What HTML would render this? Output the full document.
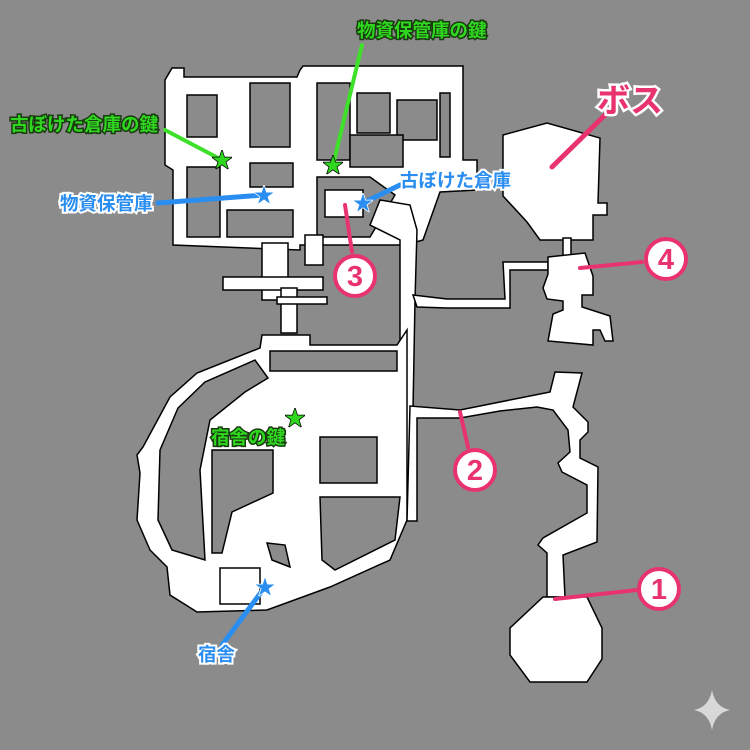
<!DOCTYPE html>
<html><head><meta charset="utf-8"><style>
html,body{margin:0;padding:0;background:#8b8b8b}
svg{display:block}
text{font-family:"Liberation Sans","Noto Sans CJK JP",sans-serif;font-weight:bold;paint-order:stroke}
.g{fill:#2fd81f;stroke:#1a3a10;stroke-width:3px;font-size:18.5px}
.b{fill:#2a8ef0;stroke:#fff;stroke-width:4px;font-size:18.5px}
.w{fill:#fff;stroke:#000;stroke-width:1.5}
.h{fill:#8b8b8b;stroke:#000;stroke-width:1.5}
</style></head><body>
<svg width="750" height="750" viewBox="0 0 750 750" xmlns="http://www.w3.org/2000/svg">
<rect width="750" height="750" fill="#8b8b8b"/>

<!-- top-left complex -->
<polygon class="w" points="172,68 184,68 184,77 297,77 300,70 303,66 463,66 463,160 477,160 477,190 440,192 423,240 405,245 300,245 300,250 173,245 173,170 165,165 165,80"/>
<rect class="h" x="187" y="95" width="30" height="42"/>
<rect class="h" x="250" y="83" width="40" height="64"/>
<rect class="h" x="187" y="167" width="33" height="70"/>
<rect class="h" x="250" y="163" width="43" height="24"/>
<rect class="h" x="227" y="210" width="66" height="27"/>
<rect class="h" x="317" y="83" width="33" height="77"/>
<rect class="h" x="357" y="93" width="33" height="40"/>
<rect class="h" x="397" y="100" width="40" height="40"/>
<rect class="h" x="350" y="135" width="53" height="32"/>
<rect class="h" x="440" y="93" width="10" height="64"/>
<polygon class="h" points="317,177 370,177 395,195 370,237 317,237"/>
<rect class="w" x="325" y="190" width="38" height="27"/>
<rect class="w" x="305" y="235" width="18" height="30" stroke="none"/>
<!-- lower connector -->
<rect class="w" x="262" y="243" width="26" height="57"/>
<rect class="w" x="223" y="277" width="100" height="13"/>
<rect class="w" x="281" y="288" width="16" height="45"/>
<rect class="w" x="277" y="297" width="50" height="7"/>

<!-- big vertical corridor -->
<polygon class="w" points="380,200 410,205 417,230 415,300 413,410 407,520 398,522 400,400 400,240 370,225"/>

<!-- middle ring -->
<polygon class="w" points="262,335 310,335 310,345 397,345 407,330 407,520 390,560 330,587 267,610 197,612 170,595 167,567 150,550 137,520 140,473 137,455 143,447 170,397 197,373 260,348"/>
<rect class="h" x="270" y="351" width="127" height="20"/>
<polygon class="h" points="255,360 205,382 178,408 160,450 158,520 172,550 205,560 200,470 210,420 245,392 268,378"/>
<polygon class="h" points="212,450 273,450 273,493 232,512 222,553 212,553"/>
<rect class="h" x="320" y="437" width="57" height="46"/>
<polygon class="h" points="320,497 400,497 395,540 335,570 322,560"/>
<polygon class="h" points="267,543 285,545 290,567 272,560"/>
<rect class="w" x="220" y="568" width="40" height="36"/>

<!-- corridor to boss/room4 -->
<polygon class="w" points="413,295 447,299 505,299 503,262 548,262 548,270 510,270 510,308 447,308 417,307"/>
<!-- boss room -->
<polygon class="w" points="503,135 547,123 600,138 598,203 607,203 607,215 593,215 593,240 540,240 527,222 503,196"/>
<rect class="w" x="563" y="238" width="8" height="20"/>
<!-- room 4 -->
<polygon class="w" points="548,257 585,253 593,276 593,295 582,295 582,307 610,316 613,341 605,341 600,330 593,330 593,345 548,341 553,314 563,310 563,301 547,299 543,288 548,274"/>

<!-- corridor 2 -->
<polygon class="w" points="407,521 410,406 460,410 500,402 550,392 555,372 582,373 573,407 588,422 588,432 580,440 580,458 598,467 597,542 563,555 565,597 547,597 547,553 538,545 543,538 587,513 587,485 562,472 558,463 570,452 568,430 553,410 537,407 500,411 460,418 417,418 417,521"/>
<!-- octagon -->
<polygon class="w" points="543,597 587,597 602,628 602,659 587,682 530,682 510,655 510,628"/>

<!-- leader lines -->
<g stroke-linecap="round" fill="none">
<line x1="165" y1="130" x2="222" y2="160" stroke="#3ee02a" stroke-width="4"/>
<line x1="362" y1="45" x2="333" y2="165" stroke="#3ee02a" stroke-width="4"/>
<line x1="158" y1="203" x2="263" y2="195" stroke="#2a8ef0" stroke-width="5"/>
<line x1="400" y1="185" x2="363" y2="203" stroke="#2a8ef0" stroke-width="5"/>
<line x1="222" y1="645" x2="265" y2="587" stroke="#2a8ef0" stroke-width="5"/>
<line x1="345" y1="205" x2="352" y2="252" stroke="#e8336e" stroke-width="4"/>
<line x1="460" y1="412" x2="468" y2="447" stroke="#e8336e" stroke-width="4"/>
<line x1="555" y1="599" x2="637" y2="590" stroke="#e8336e" stroke-width="4"/>
<line x1="580" y1="268" x2="642" y2="262" stroke="#e8336e" stroke-width="4"/>
<line x1="552" y1="167" x2="605" y2="115" stroke="#e8336e" stroke-width="5"/>
</g>

<!-- stars -->
<g font-size="20" text-anchor="middle" style="font-family:'DejaVu Sans',sans-serif">
<text x="222" y="167" fill="#2fd81f" stroke="#000" stroke-width="1.5">★</text>
<text x="333" y="172" fill="#2fd81f" stroke="#000" stroke-width="1.5">★</text>
<text x="295" y="425" fill="#2fd81f" stroke="#000" stroke-width="1.5">★</text>
<text x="264" y="202" fill="#2a8ef0" stroke="#fff" stroke-width="1.5">★</text>
<text x="363" y="210" fill="#2a8ef0" stroke="#fff" stroke-width="1.5">★</text>
<text x="265" y="594" fill="#2a8ef0" stroke="#fff" stroke-width="1.5">★</text>
</g>

<!-- labels -->
<text class="g" x="357" y="37">物資保管庫の鍵</text>
<text class="g" x="10" y="131">古ぼけた倉庫の鍵</text>
<text class="g" x="211" y="444">宿舎の鍵</text>
<text class="b" x="60" y="210">物資保管庫</text>
<text class="b" x="400" y="187">古ぼけた倉庫</text>
<text class="b" x="198" y="661">宿舎</text>
<text x="597" y="112" font-size="33" fill="#e8336e" stroke="#fff" stroke-width="5">ボス</text>

<!-- circled numbers -->
<g stroke="#e8336e" stroke-width="4" fill="#fff">
<circle cx="355" cy="276" r="20"/>
<circle cx="475" cy="470" r="20"/>
<circle cx="659" cy="589" r="20"/>
<circle cx="666" cy="259" r="20"/>
</g>
<g font-size="29" fill="#e8336e" text-anchor="middle" font-weight="900">
<text x="355" y="286">3</text>
<text x="475" y="480">2</text>
<text x="659" y="599">1</text>
<text x="666" y="269">4</text>
</g>

<!-- sparkle -->
<path d="M712,690 Q715,707 730,710 Q715,713 712,730 Q709,713 694,710 Q709,707 712,690Z" fill="#d8d8d8"/>
</svg>
</body></html>
